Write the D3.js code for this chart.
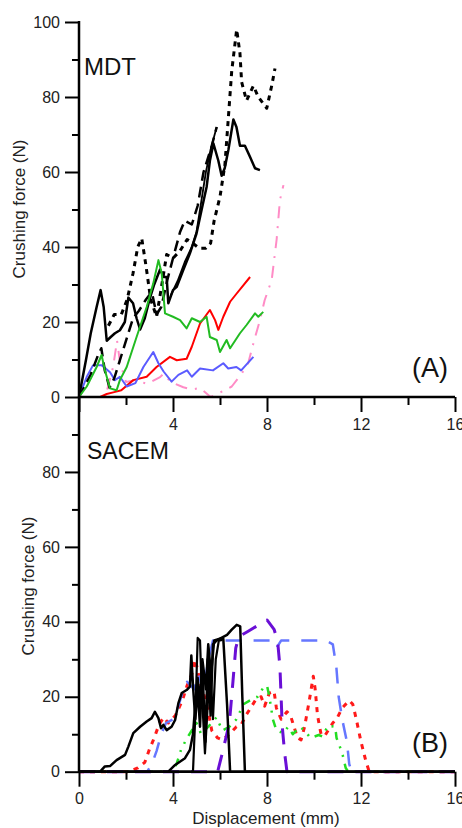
<!DOCTYPE html>
<html>
<head>
<meta charset="utf-8">
<script src="https://cdn.jsdelivr.net/npm/d3@7.9.0/dist/d3.min.js"></script>
<style>
  html, body { margin: 0; padding: 0; background: #fff; }
  svg { display: block; font-family: 'Liberation Sans', Arial, sans-serif; }
</style>
</head>
<body>
<svg id="chart" width="462" height="828"></svg>
<script>
// ---- panel A (MDT) : [displacement mm, force N]
const mdtSolid = [[0,0],[0.3,10],[0.5,17],[0.75,24],[0.92,28.5],[1.05,24],[1.18,15],[1.35,16],[1.53,17],[1.74,17.8],[1.95,20],[2.1,26.5],[2.3,25],[2.45,21],[2.6,18],[2.8,21],[3.0,26],[3.2,30],[3.45,34],[3.6,32],[3.73,32],[3.8,25],[4.0,28.5],[4.16,29.4],[4.44,33.9],[4.72,38.3],[5.0,43.6],[5.22,50],[5.43,56],[5.57,63],[5.72,67.6],[5.93,63],[6.07,59],[6.2,61],[6.36,66],[6.57,74],[6.7,72],[6.85,67],[7.06,67],[7.28,64],[7.49,61],[7.7,60.5]];
const mdtSolid2 = [[3.9,27],[4.2,31],[4.5,36],[4.8,40],[5.0,44],[5.2,52],[5.4,60],[5.6,66],[5.86,72]];
const mdtLongDash = [[0,0],[0.5,6],[0.8,11],[0.95,13],[1.1,7],[1.3,2.5],[1.5,5],[1.8,11],[2.05,16],[2.3,21],[2.55,23],[2.85,26],[3.1,28],[3.3,22],[3.5,24],[3.75,31],[4.0,37],[4.3,44],[4.5,47],[4.8,46],[5.05,51],[5.3,60],[5.45,63],[5.65,67],[5.86,72]];
const mdtDotted = [[1.25,19],[1.5,22],[1.8,22],[2.05,26],[2.3,33],[2.5,40],[2.67,42.3],[2.85,35],[3.05,26],[3.3,21.4],[3.5,29],[3.73,38],[4.0,37],[4.3,39],[4.6,42],[4.85,41],[5.1,39.7],[5.4,39.7],[5.6,41],[5.75,47],[6.0,53.4],[6.21,62],[6.35,74],[6.5,87],[6.71,98],[6.85,91.6],[6.92,84],[7.13,79],[7.42,83],[7.63,80],[7.99,77],[8.2,83],[8.34,87.6]];
const mdtGreen = [[0,0],[0.33,2.8],[0.75,8],[0.96,11.2],[1.1,7.2],[1.32,2.3],[1.6,1.8],[1.74,4.5],[2.03,8],[2.45,16],[2.88,24],[3.16,30.3],[3.38,36.5],[3.52,33],[3.66,22.3],[4.0,21.4],[4.3,20.5],[4.58,18.3],[4.8,21],[5.15,20],[5.43,21.4],[5.57,16],[5.86,15.2],[6.0,12],[6.28,15.2],[6.43,13],[6.85,17],[7.13,19.2],[7.49,22.3],[7.63,21.4],[7.84,22.7]];
const mdtRed = [[0,0],[0.9,0],[1.18,0.8],[1.5,1.3],[1.8,1.8],[2.31,4.5],[2.88,5.4],[3.3,8],[3.87,10.7],[4.16,9.8],[4.58,10.2],[4.8,13.4],[5.15,19.6],[5.57,23.2],[5.79,20.5],[5.93,17.9],[6.14,21.4],[6.43,25.4],[6.71,27.6],[7.28,32]];
const mdtBlue = [[0,0],[0.33,5.4],[0.6,8.5],[0.96,8.5],[1.32,6.6],[1.53,4.5],[1.74,5.4],[2.03,2.8],[2.4,3.7],[2.74,8],[3.16,12],[3.38,9],[3.6,6.8],[3.94,4.1],[4.23,5.9],[4.6,7.1],[4.8,5.4],[5.15,7.6],[5.7,7.1],[6.14,9],[6.35,7.6],[6.7,8],[6.9,7.1],[7.42,10.7]];
const mdtPink = [[1.2,2],[1.45,8],[1.62,15],[1.75,9],[2.0,4],[2.4,4.5],[2.9,3.5],[3.45,5.3],[3.6,6.2],[3.9,4],[4.44,2.6],[4.8,2],[5.15,2.4],[5.6,0],[5.95,1],[6.5,2.8],[6.9,6],[7.2,9],[7.45,15],[7.7,20.5],[7.9,25.8],[8.2,31.2],[8.41,42],[8.55,52.5],[8.7,56.5]];

// ---- panel B (SACEM)
const sacemSolid1 = [[0,0],[0.9,0],[1.1,1.4],[1.32,1.5],[1.6,3.1],[1.96,4.5],[2.1,6.7],[2.31,10.3],[2.6,12],[2.88,13.4],[3.09,14.3],[3.23,16],[3.38,14.3],[3.49,11.6],[3.59,12.5],[3.73,11.1],[3.94,12],[4.09,13.8],[4.23,18.3],[4.37,21],[4.58,21.8],[4.72,22.7],[4.78,31],[4.86,22],[4.95,14],[5.05,22],[5.15,12],[5.25,28],[5.38,8],[5.48,30],[5.6,15],[5.7,34],[5.85,35],[6.0,35.5],[6.14,35.5],[6.3,18],[6.43,0],[16,0]];
const sacemSolid2 = [[0,0],[3.8,0],[4.09,1.8],[4.51,3.6],[4.72,5.8],[4.85,10],[4.95,18],[5.05,25],[5.15,18],[5.25,30],[5.4,22],[5.5,34],[5.62,26],[5.75,35],[6.0,35.5],[6.3,36.5],[6.5,37.9],[6.71,39.2],[6.86,38.8],[6.95,20],[7.06,0],[16,0]];
const sacemSolid3 = [[0,0],[4.85,0],[4.95,15],[5.05,35.7],[5.15,35],[5.22,22],[5.36,4.9],[5.48,18],[5.58,28],[5.7,14],[5.82,30],[5.95,35],[6.1,35.2]];
const sacemPurple = [[0,0],[5.9,0],[6.1,5],[6.4,13],[6.55,24],[6.67,33],[6.8,36],[7.2,37.5],[7.6,39],[8.0,40.5],[8.3,38],[8.45,35],[8.55,28],[8.6,20],[8.65,12],[8.75,5],[8.85,0],[16,0]];
const sacemBlue = [[0,0],[2.9,0],[3.1,2],[3.3,5.5],[3.5,10],[3.7,13],[4.0,14],[4.2,17],[4.45,22],[4.6,24],[4.9,22],[5.1,26],[5.3,21],[5.5,30],[5.7,35],[8.2,35],[8.4,33],[8.6,35],[10.5,35],[10.8,34],[10.95,28],[11.05,20],[11.2,14],[11.4,8],[11.5,2],[11.6,0],[16,0]];
const sacemRed = [[0,0],[2.1,0],[2.5,1],[2.8,2.5],[3.0,6],[3.2,9],[3.4,12.5],[3.6,14.5],[3.8,13],[4.1,15],[4.4,19],[4.6,23],[4.8,26],[4.95,30],[5.05,27],[5.2,22.7],[5.4,19],[5.5,16],[5.65,11],[5.9,9],[6.1,8.5],[6.4,10],[6.7,12],[6.9,12.5],[7.1,15],[7.3,17],[7.55,19.5],[7.75,20],[7.9,17.5],[8.1,21],[8.3,21.5],[8.4,17],[8.6,14],[8.85,16],[9.0,15],[9.15,12],[9.3,9],[9.45,8.5],[9.6,12],[9.8,19],[9.97,25.5],[10.05,22],[10.15,15],[10.3,10],[10.45,9.5],[10.6,11],[10.8,13],[11.0,14.5],[11.2,17],[11.5,19],[11.65,18],[11.8,14],[12.0,8],[12.2,3],[12.35,0],[16,0]];
const sacemGreen = [[0,0],[3.9,0],[4.15,2],[4.35,6],[4.6,9],[4.8,11],[5.0,13],[5.2,10],[5.5,12],[5.85,14.5],[6.1,11],[6.4,12],[6.7,14],[7.0,18],[7.4,19.5],[7.6,20],[7.85,22.5],[8.0,23],[8.1,20],[8.25,14],[8.4,11],[8.7,10.3],[8.9,12],[9.1,10],[9.4,12],[9.6,11],[9.85,9],[10.2,9.8],[10.35,9.4],[10.6,12.3],[10.9,12],[10.96,9],[11.2,5],[11.35,1],[11.46,0],[16,0]];

const xTicksMajor = [0, 4, 8, 12, 16];
const xTicksMinor = [2, 6, 10, 14];
const yTicksMajor = [0, 20, 40, 60, 80, 100];
const yTicksMinor = [10, 30, 50, 70, 90];

const svg = d3.select('#chart');
const x = d3.scaleLinear().domain([0, 16]).range([79, 455]);
const yA = d3.scaleLinear().domain([0, 100]).range([397, 22]);
const yB = d3.scaleLinear().domain([0, 100]).range([771.7, 397]);

function drawAxes(y, xLabels, yLabels, pad) {
  const bottom = y(0);
  // x ticks
  svg.append('g')
    .attr('transform', `translate(0,${bottom})`)
    .call(d3.axisBottom(x).tickValues(xTicksMajor).tickSize(15).tickPadding(pad)
      .tickFormat(d => xLabels.includes(d) ? d : ''))
    .call(g => g.select('.domain').remove());
  svg.append('g')
    .attr('transform', `translate(0,${bottom})`)
    .call(d3.axisBottom(x).tickValues(xTicksMinor).tickSize(8).tickFormat(''))
    .call(g => g.select('.domain').remove());
  // y ticks
  svg.append('g')
    .attr('transform', 'translate(79,0)')
    .call(d3.axisLeft(y).tickValues(yTicksMajor.filter(d => d < 100 || yLabels.includes(100)))
      .tickSize(14).tickPadding(5).tickFormat(d => yLabels.includes(d) ? d : ''))
    .call(g => g.select('.domain').remove());
  svg.append('g')
    .attr('transform', 'translate(79,0)')
    .call(d3.axisLeft(y).tickValues(yTicksMinor).tickSize(7).tickFormat(''))
    .call(g => g.select('.domain').remove());
  // x baseline
  svg.append('line')
    .attr('x1', 79).attr('x2', 455).attr('y1', bottom).attr('y2', bottom)
    .attr('stroke', '#000').attr('stroke-width', 2.5);
}

function drawLine(data, y, color, width, dash) {
  const line = d3.line().x(d => x(d[0])).y(d => y(d[1]));
  svg.append('path')
    .datum(data)
    .attr('d', line)
    .attr('fill', 'none')
    .attr('stroke', color)
    .attr('stroke-width', width)
    .attr('stroke-linejoin', 'round')
    .attr('stroke-dasharray', dash || null);
}

// panel A lines
drawLine(mdtPink, yA, '#ff8cc6', 2, '12,8,2,8');
drawLine(mdtRed, yA, '#ff0000', 2);
drawLine(mdtBlue, yA, '#5b5bff', 2);
drawLine(mdtSolid2, yA, '#000', 1.8);
drawLine(mdtLongDash, yA, '#000', 2.5, '11,6');
drawLine(mdtDotted, yA, '#000', 3, '5,5');
drawLine(mdtSolid, yA, '#000', 2.5);
drawLine(mdtGreen, yA, '#22bb22', 2);

// panel B lines
drawLine(sacemRed, yB, '#ff1a1a', 3, '5,6');
drawLine(sacemGreen, yB, '#22dd22', 2.5, '8,7,2,7,2,7');
drawLine(sacemBlue, yB, '#6677ff', 2.5, '16,12');
drawLine(sacemPurple, yB, '#6a0fd6', 3, '16,12');
drawLine(sacemSolid3, yB, '#000', 2.2);
drawLine(sacemSolid1, yB, '#000', 2.5);
drawLine(sacemSolid2, yB, '#000', 2.5);

drawAxes(yA, [4, 8, 12, 16], [0, 20, 40, 60, 80, 100], 7);
drawAxes(yB, [0, 4, 8, 12, 16], [0, 20, 40, 60, 80], 6);

// vertical axis line shared by both panels
svg.append('line')
  .attr('x1', 79).attr('x2', 79).attr('y1', 21).attr('y2', 773)
  .attr('stroke', '#000').attr('stroke-width', 2.5);

svg.selectAll('.tick line').attr('stroke', '#000').attr('stroke-width', 2);
svg.selectAll('.tick text').attr('font-size', 16).attr('fill', '#222')
  .attr('font-family', "'Liberation Sans', Arial, sans-serif");

// labels
svg.append('text').attr('x', 84).attr('y', 75).attr('font-size', 24).attr('fill', '#111').text('MDT');
svg.append('text').attr('x', 87).attr('y', 459).attr('font-size', 23).attr('fill', '#111').text('SACEM');
svg.append('text').attr('x', 412).attr('y', 377).attr('font-size', 27).attr('fill', '#111').text('(A)');
svg.append('text').attr('x', 412).attr('y', 752).attr('font-size', 27).attr('fill', '#111').text('(B)');

svg.append('text')
  .attr('transform', 'translate(25,209) rotate(-90)')
  .attr('text-anchor', 'middle').attr('font-size', 17).attr('fill', '#222')
  .text('Crushing force (N)');
svg.append('text')
  .attr('transform', 'translate(34,586) rotate(-90)')
  .attr('text-anchor', 'middle').attr('font-size', 17).attr('fill', '#222')
  .text('Crushing force (N)');
svg.append('text')
  .attr('x', 266).attr('y', 824)
  .attr('text-anchor', 'middle').attr('font-size', 17).attr('fill', '#222')
  .text('Displacement (mm)');
</script>
</body>
</html>
